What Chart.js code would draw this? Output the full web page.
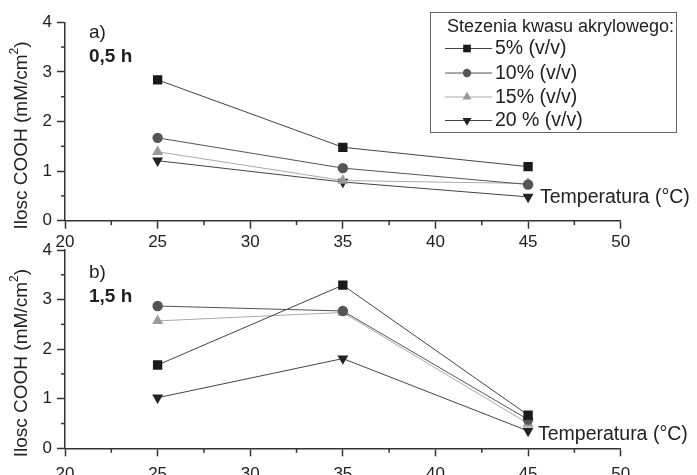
<!DOCTYPE html>
<html><head><meta charset="utf-8">
<script src="https://cdn.jsdelivr.net/npm/chart.js@4/dist/chart.umd.min.js"></script>
<style>
html,body{margin:0;padding:0;background:#fff;}
#wrap{position:relative;width:697px;height:475px;overflow:hidden;background:#fff;}
canvas{position:absolute;left:0;}
#c1{top:0;}
#c2{top:228px;}
</style></head><body>
<div id="wrap">
<canvas id="c1" width="697" height="256"></canvas>
<canvas id="c2" width="697" height="247"></canvas>
</div>
<script>
// ---- data ----
const temperatures = [25, 35, 45];
const seriesLabels = ['5% (v/v)', '10% (v/v)', '15% (v/v)', '20 % (v/v)'];
const xTicks = [20, 25, 30, 35, 40, 45, 50];
const yTicks = [0, 1, 2, 3, 4];
// panel a) 0,5 h
const a5  = [2.84, 1.48, 1.09];
const a10 = [1.67, 1.06, 0.73];
const a15 = [1.39, 0.81, 0.75];
const a20 = [1.21, 0.78, 0.48];
// panel b) 1,5 h
const b5  = [1.68, 3.29, 0.67];
const b10 = [2.87, 2.77, 0.58];
const b15 = [2.57, 2.74, 0.50];
const b20 = [1.02, 1.81, 0.35];

const legendTitle = 'Stezenia kwasu akrylowego:';
const axisTitleMain = 'Ilosc COOH (mM/cm';
const axisTitleSup = '2';
const axisTitleEnd = ')';
const xTitle = 'Temperatura (\u00B0C)';

const FONT = "'Liberation Sans', Arial, Helvetica, sans-serif";
const styles = [
  {point:'rect', rot:0, r:6.6, fill:'#1a1a1a', line:'#444'},
  {point:'circle', rot:0, r:5.2, fill:'#555555', line:'#555'},
  {point:'triangle', rot:0, r:6.3, fill:'#9a9a9a', line:'#aaa'},
  {point:'triangle', rot:180, r:6.3, fill:'#222222', line:'#444'}
];

function makeDatasets(arrs){
  return arrs.map((vals, i) => ({
    label: seriesLabels[i],
    data: temperatures.map((t, j) => ({x: t, y: vals[j]})),
    borderColor: styles[i].line,
    borderWidth: 1,
    backgroundColor: styles[i].fill,
    pointStyle: styles[i].point,
    pointRotation: styles[i].rot,
    pointRadius: styles[i].r,
    pointBorderWidth: 0,
    pointBackgroundColor: styles[i].fill,
    pointBorderColor: styles[i].fill,
    tension: 0
  }));
}

function drawMarker(ctx, style, x, y, r){
  ctx.save();
  ctx.fillStyle = style.fill;
  ctx.beginPath();
  if (style.point === 'rect'){
    const s = r * Math.SQRT1_2;
    ctx.rect(x - s, y - s, 2*s, 2*s);
  } else if (style.point === 'circle'){
    ctx.arc(x, y, r, 0, Math.PI*2);
  } else {
    const d = style.rot === 180 ? -1 : 1;
    ctx.moveTo(x, y - d*r);
    ctx.lineTo(x + r*0.866, y + d*r*0.5);
    ctx.lineTo(x - r*0.866, y + d*r*0.5);
    ctx.closePath();
  }
  ctx.fill();
  ctx.restore();
}

const decorPlugin = {
  id: 'decor',
  afterDraw(chart, args, opts){
    const ctx = chart.ctx;
    const xs = chart.scales.x, ys = chart.scales.y;
    ctx.save();
    // minor ticks
    ctx.strokeStyle = '#333';
    ctx.lineWidth = 1.5;
    for (let v = 22.5; v < 50; v += 5){
      const px = xs.getPixelForValue(v);
      ctx.beginPath(); ctx.moveTo(px, xs.top); ctx.lineTo(px, xs.top + 4.5); ctx.stroke();
    }
    for (let v = 0.5; v < 4; v += 1){
      const py = ys.getPixelForValue(v);
      ctx.beginPath(); ctx.moveTo(ys.right, py); ctx.lineTo(ys.right - 4, py); ctx.stroke();
    }
    ctx.fillStyle = '#222';
    // y-axis title with superscript
    const cy = (ys.top + ys.bottom)/2 + 14;
    ctx.translate(22, cy);
    ctx.rotate(-Math.PI/2);
    ctx.font = '19px ' + FONT;
    const w1 = ctx.measureText(axisTitleMain).width;
    const w3 = ctx.measureText(axisTitleEnd).width;
    ctx.font = '12px ' + FONT;
    const w2 = ctx.measureText(axisTitleSup).width;
    let x0 = -(w1 + w2 + w3)/2;
    ctx.textBaseline = 'middle';
    ctx.textAlign = 'left';
    ctx.font = '19px ' + FONT;
    ctx.fillText(axisTitleMain, x0, 0);
    ctx.font = '12px ' + FONT;
    ctx.fillText(axisTitleSup, x0 + w1, -7);
    ctx.font = '19px ' + FONT;
    ctx.fillText(axisTitleEnd, x0 + w1 + w2, 0);
    ctx.setTransform(1,0,0,1,0,0);
    // panel label
    ctx.textBaseline = 'middle';
    ctx.font = '19px ' + FONT;
    ctx.fillText(opts.panel, 89, opts.panelY);
    ctx.font = 'bold 19px ' + FONT;
    ctx.fillText(opts.time, 89, opts.panelY + 24);
    // x title
    ctx.font = '19.5px ' + FONT;
    ctx.fillText(xTitle, opts.xtX, opts.xtY);
    // legend
    if (opts.legend){
      ctx.strokeStyle = '#666';
      ctx.lineWidth = 1;
      ctx.strokeRect(430.5, 12.5, 246, 120);
      ctx.font = '18px ' + FONT;
      ctx.fillStyle = '#222';
      ctx.fillText(legendTitle, 447, 27);
      const rows = [48.5, 73, 97, 120.5];
      chart.data.datasets.forEach((ds, i) => {
        const y = rows[i];
        ctx.strokeStyle = styles[i].line;
        ctx.lineWidth = 1;
        ctx.beginPath(); ctx.moveTo(445, y); ctx.lineTo(492, y); ctx.stroke();
        const rr = styles[i].point === 'rect' ? 5.4 : (styles[i].point === 'circle' ? 4.2 : 5.2);
        drawMarker(ctx, styles[i], 467, y, rr);
        ctx.fillStyle = '#222';
        ctx.font = '19.5px ' + FONT;
        ctx.fillText(ds.label, 495, y + 0.5);
      });
    }
    ctx.restore();
  }
};

function makeChart(id, arrs, H, top, bottom, labelPad, decor){
  return new Chart(document.getElementById(id), {
    type: 'line',
    data: { datasets: makeDatasets(arrs) },
    options: {
      responsive: false,
      animation: false,
      layout: { padding: {left: 0, right: 76.3, top: top, bottom: 0} },
      plugins: { legend: {display: false}, tooltip: {enabled: false}, decor: decor },
      scales: {
        x: {
          type: 'linear', min: 20, max: 50,
          afterFit(s){ s.height = H - bottom; },
          afterBuildTicks(s){ s.ticks = xTicks.map(v => ({value: v})); },
          border: {color: '#333', width: 1.5},
          grid: {drawOnChartArea: false, drawTicks: true, tickLength: 8, tickColor: '#333', tickWidth: 1.5},
          ticks: {color: '#222', font: {family: FONT, size: 17}, padding: labelPad, maxRotation: 0, autoSkip: false}
        },
        y: {
          type: 'linear', min: 0, max: 4,
          afterFit(s){ s.width = 65; },
          afterBuildTicks(s){ s.ticks = yTicks.map(v => ({value: v})); },
          border: {color: '#333', width: 1.5},
          grid: {drawOnChartArea: false, drawTicks: true, tickLength: 8, tickColor: '#333', tickWidth: 1.5},
          ticks: {color: '#222', font: {family: FONT, size: 17}, padding: 5}
        }
      }
    },
    plugins: [decorPlugin]
  });
}

makeChart('c1', [a5, a10, a15, a20], 256, 22.3, 220.7, 3,
  {panel: 'a)', time: '0,5 h', panelY: 33, xtX: 540, xtY: 198, legend: true});
makeChart('c2', [b5, b10, b15, b20], 247, 22, 220.3, 8,
  {panel: 'b)', time: '1,5 h', panelY: 45, xtX: 538, xtY: 207, legend: false});
</script>
</body></html>
